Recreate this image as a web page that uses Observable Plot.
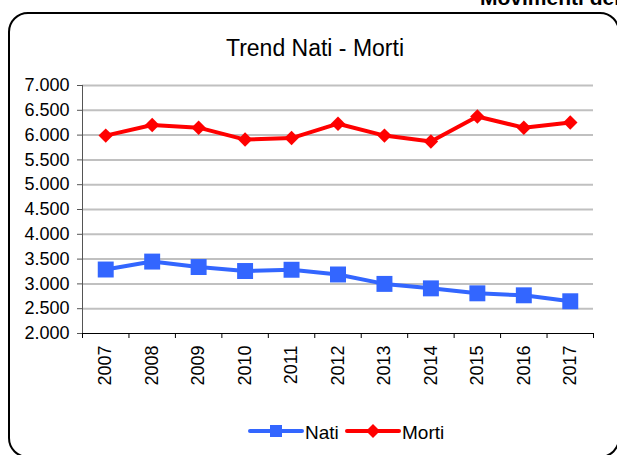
<!DOCTYPE html>
<html>
<head>
<meta charset="utf-8">
<script src="https://cdn.jsdelivr.net/npm/d3@7"></script>
<script src="https://cdn.jsdelivr.net/npm/@observablehq/plot@0.6"></script>
<style>
  html, body { margin: 0; padding: 0; background: #fff; overflow: hidden; }
  #page { position: relative; width: 617px; height: 455px; overflow: hidden; font-family: Arial, "Liberation Sans", sans-serif; }
  #box { position: absolute; left: 8px; top: 12px; width: 608px; height: 442px; border: 2px solid #000; border-radius: 20px; }
  #header { position: absolute; left: 480px; top: -13px; font-size: 21px; font-weight: bold; line-height: 1; white-space: nowrap; color: #000; }
  #title { position: absolute; left: 0; width: 630px; top: 37px; text-align: center; font-size: 23px; line-height: 1; color: #000; }
  #chart { position: absolute; left: 0; top: 70px; }
  #legend { position: absolute; left: 0; top: 415px; }
</style>
</head>
<body>
<div id="page">
  <div id="header">Movimenti demografici</div>
  <div id="box"></div>
  <div id="title">Trend Nati - Morti</div>
  <div id="chart"></div>
  <svg id="legend" width="617" height="35"></svg>
</div>
<script>
const years = [2007, 2008, 2009, 2010, 2011, 2012, 2013, 2014, 2015, 2016, 2017];
const nati  = [3290, 3450, 3340, 3260, 3285, 3190, 3000, 2910, 2810, 2770, 2650];
const morti = [5990, 6205, 6150, 5910, 5940, 6230, 5990, 5870, 6375, 6150, 6255];
const yTicks = [2000, 2500, 3000, 3500, 4000, 4500, 5000, 5500, 6000, 6500, 7000];
const seriesNames = ["Nati", "Morti"];
const seriesColors = ["#3366FF", "#FF0000"];

const it = d3.formatLocale({decimal: ",", thousands: ".", grouping: [3], currency: ["€", ""]});
const fmt = it.format(",.0f");

const data = [
  ...years.map((y, i) => ({year: y, value: nati[i], series: "Nati"})),
  ...years.map((y, i) => ({year: y, value: morti[i], series: "Morti"}))
];
const edges = years.map(y => y - 0.5).concat([years[years.length - 1] + 0.5]);

const chart = Plot.plot({
  width: 617,
  height: 330,
  marginTop: 15,
  marginBottom: 67,
  marginLeft: 82,
  marginRight: 24,
  style: {fontFamily: "Arial, 'Liberation Sans', sans-serif", fontSize: "18px", background: "transparent", color: "#000"},
  x: {domain: [edges[0], edges[edges.length - 1]]},
  y: {domain: [yTicks[0], yTicks[yTicks.length - 1]]},
  color: {domain: seriesNames, range: seriesColors},
  marks: [
    Plot.gridY(yTicks.slice(1), {stroke: "#c0c0c0", strokeWidth: 2, strokeOpacity: 1}),
    Plot.ruleX([edges[0]], {stroke: "#555"}),
    Plot.ruleY([yTicks[0]], {stroke: "#000"}),
    Plot.axisY(yTicks, {tickFormat: fmt, tickSize: 5, tickPadding: 8, label: null, stroke: "#555"}),
    Plot.axisX(edges, {tickSize: 5, tickFormat: () => "", label: null, stroke: "#000"}),
    Plot.axisX(years, {tickSize: 0, tickPadding: 12, tickRotate: -90, tickFormat: d => String(d), label: null}),
    Plot.line(data, {x: "year", y: "value", stroke: "series", strokeWidth: 4, z: "series"}),
    Plot.dot(data.filter(d => d.series === "Nati"), {x: "year", y: "value", symbol: "square", r: 9, fill: "series", stroke: "none"}),
    Plot.dot(data.filter(d => d.series === "Morti"), {x: "year", y: "value", symbol: "diamond2", r: 6.5, fill: "series", stroke: "none"})
  ]
});
document.getElementById("chart").appendChild(chart);

// legend
const lg = d3.select("#legend");
const startX = [250, 347];
seriesNames.forEach((name, i) => {
  const x0 = startX[i];
  lg.append("line").attr("x1", x0).attr("x2", x0 + 52).attr("y1", 16).attr("y2", 16)
    .attr("stroke", seriesColors[i]).attr("stroke-width", 4).attr("stroke-linecap", "round");
  if (i === 0) {
    lg.append("rect").attr("x", x0 + 20).attr("y", 10).attr("width", 12).attr("height", 12).attr("fill", seriesColors[i]);
  } else {
    const cx = x0 + 26, cy = 16, s = 7;
    lg.append("path").attr("d", `M${cx},${cy - s}L${cx + s},${cy}L${cx},${cy + s}L${cx - s},${cy}Z`).attr("fill", seriesColors[i]);
  }
  lg.append("text").attr("x", x0 + 55).attr("y", 24).attr("font-size", 19)
    .attr("font-family", "Arial, 'Liberation Sans', sans-serif").attr("fill", "#000").text(name);
});
</script>
</body>
</html>
